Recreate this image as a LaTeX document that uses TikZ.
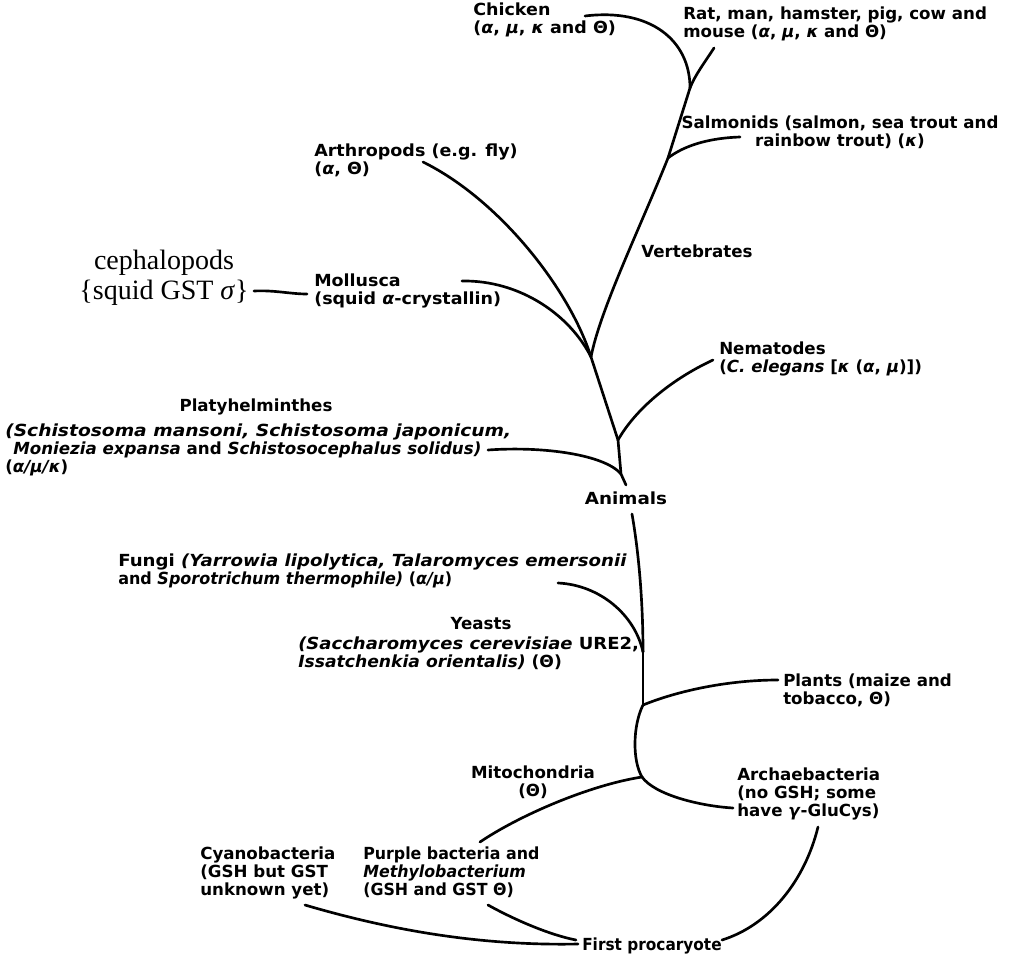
\documentclass[tikz,border=0pt]{standalone}
\usepackage{fontspec}
\newfontfamily\labfont[ItalicFont={DejaVu Sans Oblique},BoldFont={DejaVu Sans Bold},BoldItalicFont={DejaVu Sans Bold Oblique}]{DejaVu Sans}
\newfontfamily\serfont{Liberation Serif}
\newcommand\lsx[1]{\addfontfeatures{FakeStretch=#1}}
\begin{document}
\begin{tikzpicture}[x=0.75pt,y=-0.75pt,
  lab/.style={font=\labfont\bfseries\fontsize{12.5}{13.5}\selectfont, inner sep=0pt, align=left, anchor=north west},
  labc/.style={lab, align=center, anchor=north},
  lstretch/.style={font=\labfont\bfseries\fontsize{12.5}{13.5}\selectfont\lsx{#1}},
  serlab/.style={font=\serfont\fontsize{21}{22.5}\selectfont, inner sep=0pt, align=center, anchor=north},
  branch/.style={line width=2pt, line cap=round}]
\useasboundingbox (0,0) rectangle (1027,962);
% labels
\node[lab, lstretch=1.05] (chicken) at (473,3) {Chicken\\(\textit{α}, \textit{μ}, \textit{κ} and Θ)};
\node[lab] (rat) at (683,7) {Rat, man, hamster, pig, cow and\\mouse (\textit{α}, \textit{μ}, \textit{κ} and Θ)};
\node[labc] (salmon) at (840,116) {Salmonids (salmon, sea trout and\\rainbow trout) (\textit{κ})};
\node[lab, lstretch=1.05] (arthro) at (314,144) {Arthropods (e.g. fly)\\(\textit{α}, Θ)};
\node[lab] (verte) at (641,245) {Vertebrates};
\node[serlab] (cephalo) at (164,250) {cephalopods\\\{squid GST \textit{σ}\}};
\node[lab, lstretch=1.05] (mollusca) at (314,274) {Mollusca\\(squid \textit{α}-crystallin)};
\node[lab] (nema) at (719,342) {Nematodes\\(\textit{C. elegans} [\textit{κ} (\textit{α}, \textit{μ})])};
\node[labc] (platyt) at (256,399) {Platyhelminthes};
\node[lab] (platy) at (5,424) {{\lsx{1.12}\textit{(Schistosoma mansoni, Schistosoma japonicum,}}\\\hspace*{6pt}\textit{Moniezia expansa} and \textit{Schistosocephalus solidus)}\\(\textit{α/μ/κ})};
\node[labc, lstretch=1.1] (animals) at (626,492) {Animals};
\node[lab] (fungi) at (118,554) {{\lsx{1.09}Fungi \textit{(Yarrowia lipolytica, Talaromyces emersonii}}\\{\lsx{0.96}and \textit{Sporotrichum thermophile)} (\textit{α/μ})}};
\node[labc] (yeastt) at (481,617) {Yeasts};
\node[lab] (yeast) at (298,637) {{\lsx{1.08}\textit{(Saccharomyces cerevisiae} URE2,}\\{\lsx{1.03}\textit{Issatchenkia orientalis)} (Θ)}};
\node[lab] (plants) at (783,674) {Plants (maize and\\tobacco, Θ)};
\node[labc] (mito) at (533,766) {Mitochondria\\(Θ)};
\node[lab] (archae) at (737,768) {Archaebacteria\\(no GSH; some\\have \textit{γ}-GluCys)};
\node[lab] (cyano) at (200,847) {Cyanobacteria\\(GSH but GST\\unknown yet)};
\node[lab, lstretch=0.95] (purple) at (363,847) {Purple bacteria and\\\textit{Methylobacterium}\\(GSH and GST Θ)};
\node[lab, lstretch=0.92] (first) at (582,938) {First procaryote};
% junctions
\coordinate (J1) at (690,88);
\coordinate (J2) at (668,158);
\coordinate (J3) at (591,357);
\coordinate (J4) at (618,440);
\coordinate (J5) at (621,474);
\coordinate (JT) at (626,485);
\coordinate (JA) at (632,514);
\coordinate (JF) at (643,652);
\coordinate (J6) at (643,705);
\coordinate (J7) at (642,777);
% free ends
\coordinate (eChick) at (585,16);
\coordinate (eRat) at (714,48);
\coordinate (eSalm) at (740,137);
\coordinate (eArth) at (423,162);
\coordinate (eMoll) at (462,281);
\coordinate (eCephL) at (254,291);
\coordinate (eCephR) at (307,294);
\coordinate (eNema) at (713,360);
\coordinate (ePlaty) at (488,450);
\coordinate (eFungi) at (558,583);
\coordinate (ePlant) at (778,680);
\coordinate (eArchL) at (733,808);
\coordinate (eMito) at (480,842);
\coordinate (ePurp) at (488,905);
\coordinate (eCyan) at (305,905);
\coordinate (eFirstL) at (578,944);
\coordinate (eFirstL2) at (576,940);
\coordinate (eFirstR) at (722,940);
\coordinate (eArchB) at (818,827);
% branches
\draw[branch] (eChick) .. controls (650,8) and (690,40) .. (J1);
\draw[branch] (eRat) .. controls (705,62) and (695,75) .. (J1);
\draw[branch] (J1) -- (J2);
\draw[branch] (J2) .. controls (685,145) and (710,138) .. (eSalm);
\draw[branch] (J2) .. controls (640,228) and (600,310) .. (J3);
\draw[branch] (eArth) .. controls (500,200) and (570,290) .. (J3);
\draw[branch] (eMoll) .. controls (520,280) and (570,315) .. (J3);
\draw[branch] (eCephL) .. controls (275,290) and (290,294) .. (eCephR);
\draw[branch] (J3) -- (J4);
\draw[branch] (J4) .. controls (635,410) and (670,380) .. (eNema);
\draw[branch] (J4) -- (J5) -- (JT);
\draw[branch] (ePlaty) .. controls (545,446) and (605,455) .. (J5);
\draw[branch] (JA) .. controls (640,560) and (643,610) .. (JF);
\draw[branch] (eFungi) .. controls (600,585) and (635,615) .. (JF);
\draw[branch] (JF) -- (J6);
\draw[branch] (J6) .. controls (680,690) and (730,680) .. (ePlant);
\draw[branch] (J6) .. controls (633,725) and (632,760) .. (J7);
\draw[branch] (J7) .. controls (655,795) and (700,806) .. (eArchL);
\draw[branch] (J7) .. controls (590,785) and (520,815) .. (eMito);
\draw[branch] (ePurp) .. controls (515,920) and (550,935) .. (eFirstL2);
\draw[branch] (eCyan) .. controls (390,930) and (480,946) .. (eFirstL);
\draw[branch] (eFirstR) .. controls (770,925) and (805,880) .. (eArchB);
\end{tikzpicture}
\end{document}
